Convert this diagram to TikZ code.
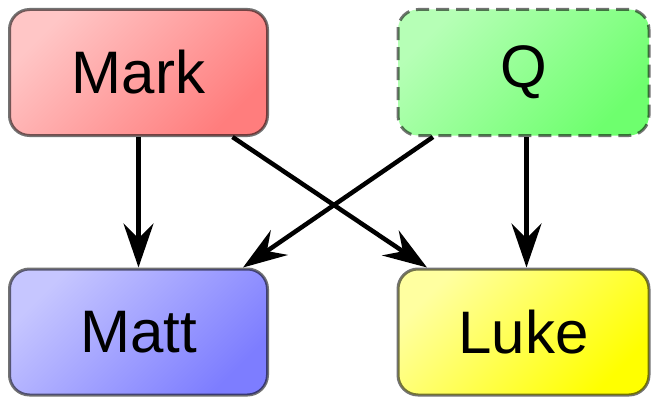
\documentclass[tikz,border=0pt]{standalone}
\usepackage{fontspec}
\setmainfont{Liberation Sans}
\usetikzlibrary{arrows.meta}
\definecolor{markA}{HTML}{FFC6C6}
\definecolor{markB}{HTML}{FF7D7D}
\definecolor{qA}{HTML}{B6FFB6}
\definecolor{qB}{HTML}{6EFF6E}
\definecolor{mattA}{HTML}{C6C6FF}
\definecolor{mattB}{HTML}{7D7DFF}
\definecolor{lukeA}{HTML}{FFFFA0}
\definecolor{lukeB}{HTML}{FFFF00}
\tikzset{
  box/.style={draw=black, draw opacity=0.55, line width=3pt, rounded corners=20pt,
    minimum height=126pt, inner sep=0pt,
    font=\fontsize{60}{60}\selectfont},
  diag/.style={shading=axis, shading angle=45},
  link/.style={line width=4.5pt, -{Stealth[length=44pt, width=30pt, inset=15pt]}}
}
\begin{document}
\begin{tikzpicture}[x=1pt,y=1pt]
\useasboundingbox (0,0) rectangle (655,400);
\node[box, minimum width=258pt, top color=markA, bottom color=markB, diag] (mark) at (138.5,327.5) {Mark};
\node[box, minimum width=251pt, top color=qA, bottom color=qB, diag, dash pattern=on 13pt off 7pt] (q) at (523.5,327.5) {Q};
\node[box, minimum width=258pt, top color=mattA, bottom color=mattB, diag] (matt) at (138.5,68) {Matt};
\node[box, minimum width=251pt, top color=lukeA, bottom color=lukeB, diag] (luke) at (523.5,68) {Luke};
\draw[link] (mark.south) -- (matt.north);
\draw[link] ([xshift=94pt]mark.south) -- ([xshift=-96.5pt]luke.north);
\draw[link] ([xshift=-90.5pt]q.south) -- ([xshift=104.5pt]matt.north);
\draw[link] ([xshift=3pt]q.south) -- ([xshift=3pt]luke.north);
\end{tikzpicture}
\end{document}
